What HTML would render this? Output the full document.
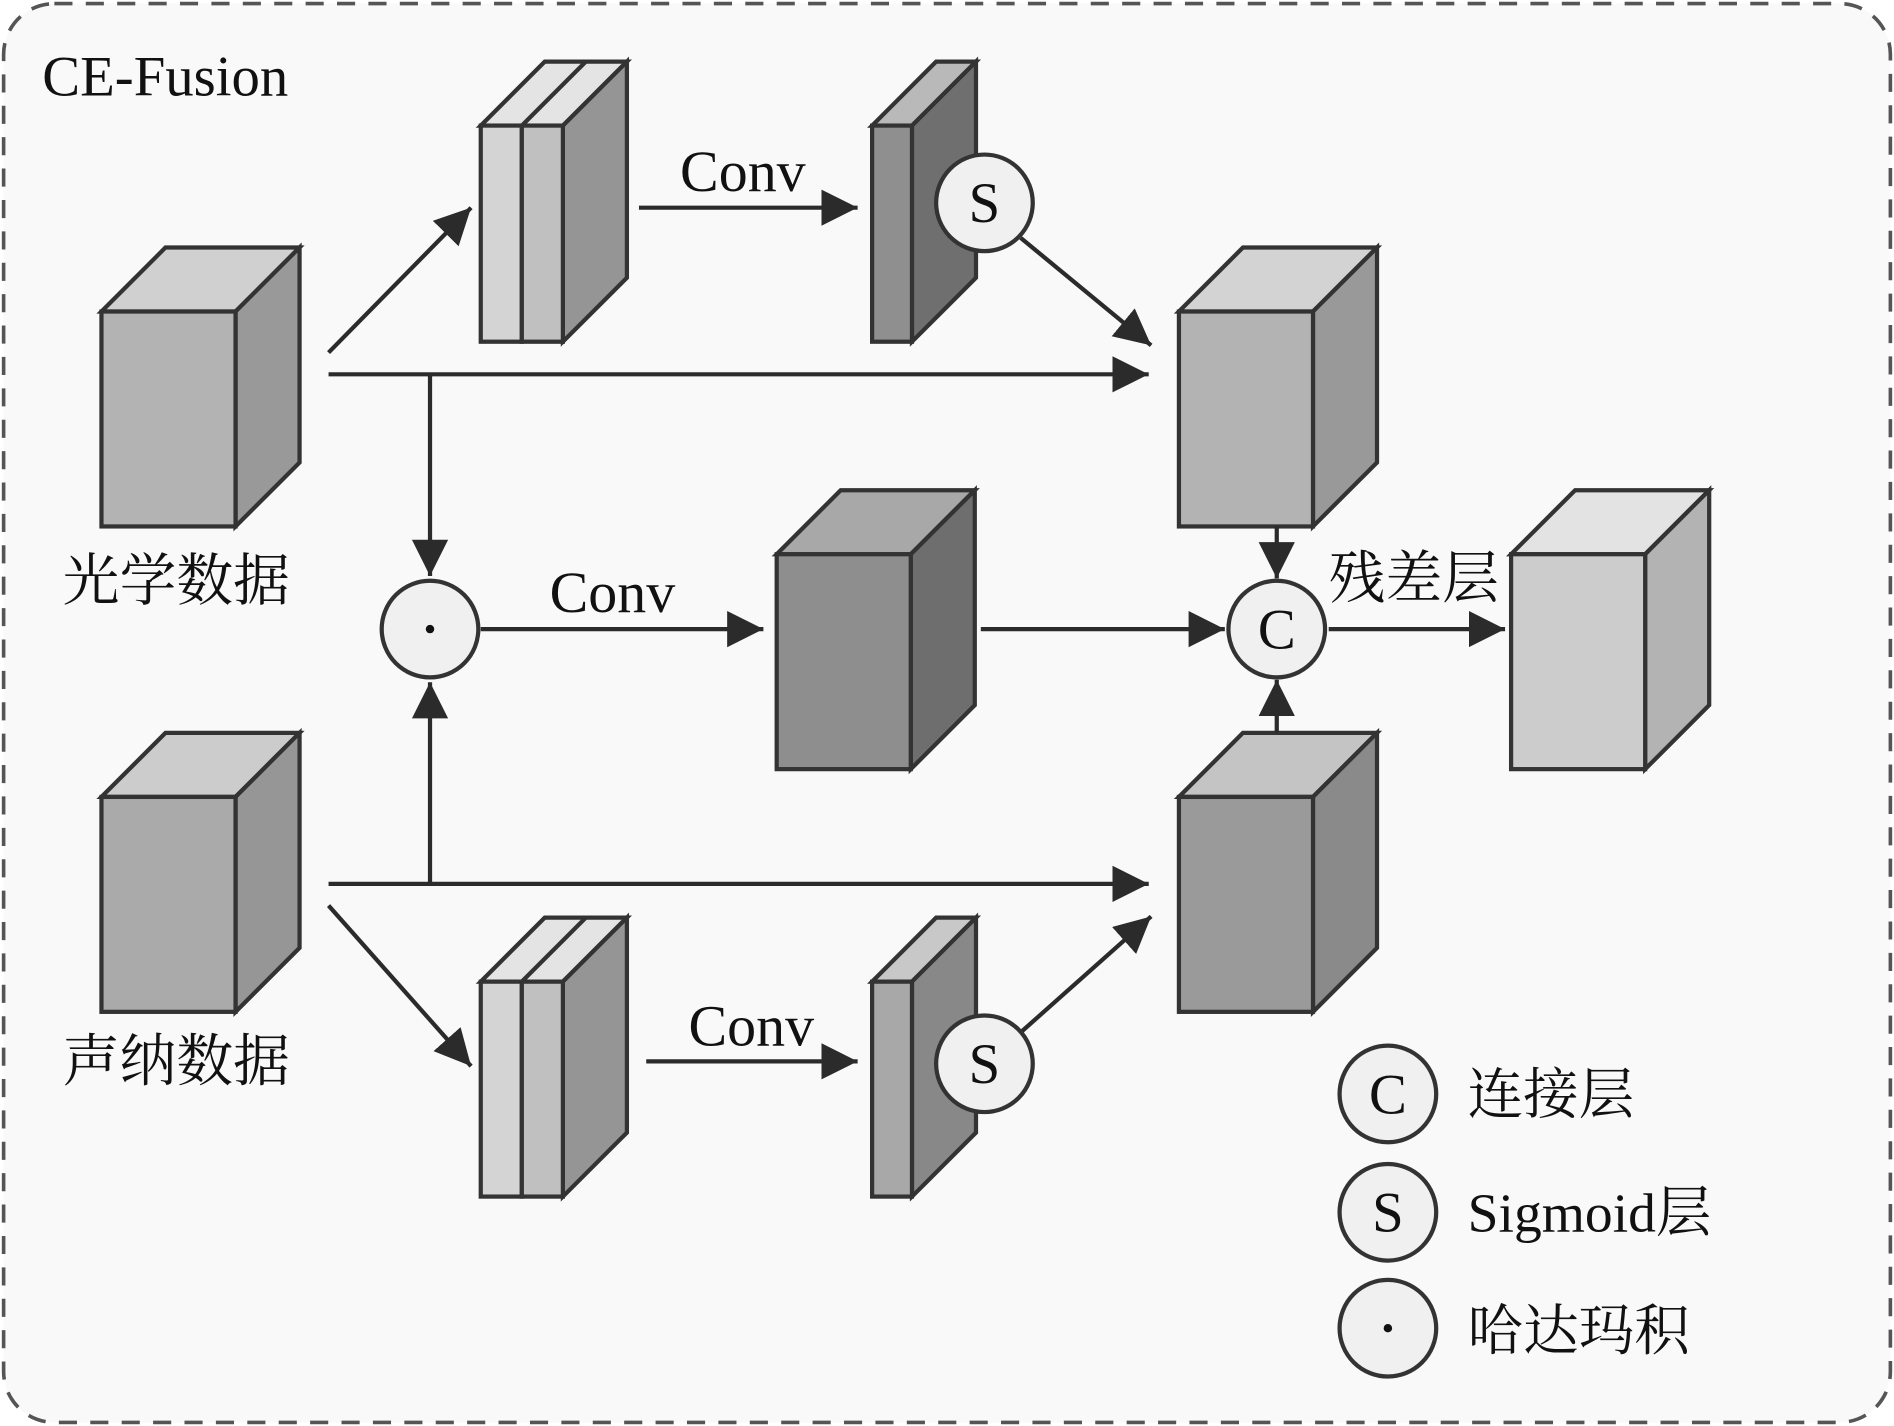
<!DOCTYPE html>
<html><head><meta charset="utf-8"><style>
html,body{margin:0;padding:0;background:#fff;}
svg{display:block;}
text{font-family:"Liberation Serif","Noto Serif CJK SC",serif;fill:#111;}
</style></head><body>
<svg width="1894" height="1426" viewBox="0 0 1568 1181" preserveAspectRatio="none" xmlns="http://www.w3.org/2000/svg">
<defs>
<marker id="a" markerUnits="userSpaceOnUse" markerWidth="32" markerHeight="32" refX="30" refY="15" orient="auto">
<path d="M0,0 L30,15 L0,30 Z" fill="#2b2b2b"/>
</marker>
</defs>
<rect x="3" y="3" width="1562" height="1175" rx="42" fill="#f9f9f9" stroke="#555" stroke-width="3" stroke-dasharray="15,11"/>
<g stroke="#333" stroke-width="3.5" stroke-linejoin="miter">
<polygon points="84,258 137,205 248,205 195,258" fill="#d0d0d0"/>
<polygon points="195,258 248,205 248,383 195,436" fill="#999"/>
<rect x="84" y="258" width="111" height="178" fill="#b3b3b3"/>
<polygon points="84,660 137,607 248,607 195,660" fill="#ccc"/>
<polygon points="195,660 248,607 248,785 195,838" fill="#969696"/>
<rect x="84" y="660" width="111" height="178" fill="#aaa"/>
<polygon points="398,104 451,51 519,51 466,104" fill="#e4e4e4"/>
<line x1="432" y1="104" x2="485" y2="51"/>
<polygon points="466,104 519,51 519,230 466,283" fill="#959595"/>
<rect x="398" y="104" width="34" height="179" fill="#d4d4d4"/>
<rect x="432" y="104" width="34" height="179" fill="#c0c0c0"/>
<polygon points="722,104 775,51 808,51 755,104" fill="#b9b9b9"/>
<polygon points="755,104 808,51 808,230 755,283" fill="#6f6f6f"/>
<rect x="722" y="104" width="33" height="179" fill="#8f8f8f"/>
<polygon points="398,813 451,760 519,760 466,813" fill="#e4e4e4"/>
<line x1="432" y1="813" x2="485" y2="760"/>
<polygon points="466,813 519,760 519,938 466,991" fill="#959595"/>
<rect x="398" y="813" width="34" height="178" fill="#d4d4d4"/>
<rect x="432" y="813" width="34" height="178" fill="#c0c0c0"/>
<polygon points="722,813 775,760 808,760 755,813" fill="#c8c8c8"/>
<polygon points="755,813 808,760 808,938 755,991" fill="#888"/>
<rect x="722" y="813" width="33" height="178" fill="#a8a8a8"/>
<polygon points="976,258 1029,205 1140,205 1087,258" fill="#d3d3d3"/>
<polygon points="1087,258 1140,205 1140,383 1087,436" fill="#999"/>
<rect x="976" y="258" width="111" height="178" fill="#b3b3b3"/>
<polygon points="643,459 696,406 807,406 754,459" fill="#a8a8a8"/>
<polygon points="754,459 807,406 807,584 754,637" fill="#6e6e6e"/>
<rect x="643" y="459" width="111" height="178" fill="#8e8e8e"/>
<polygon points="976,660 1029,607 1140,607 1087,660" fill="#c4c4c4"/>
<polygon points="1087,660 1140,607 1140,785 1087,838" fill="#8a8a8a"/>
<rect x="976" y="660" width="111" height="178" fill="#9a9a9a"/>
<polygon points="1251,459 1304,406 1415,406 1362,459" fill="#e3e3e3"/>
<polygon points="1362,459 1415,406 1415,584 1362,637" fill="#b3b3b3"/>
<rect x="1251" y="459" width="111" height="178" fill="#ccc"/>
</g>
<g stroke="#2b2b2b" stroke-width="3.5" fill="none">
<line x1="272" y1="292" x2="390" y2="172" marker-end="url(#a)"/>
<line x1="529" y1="172" x2="710" y2="172" marker-end="url(#a)"/>
<line x1="845" y1="197" x2="953" y2="286" marker-end="url(#a)"/>
<line x1="272" y1="310" x2="951" y2="310" marker-end="url(#a)"/>
<line x1="356" y1="310" x2="356" y2="477" marker-end="url(#a)"/>
<line x1="398" y1="521" x2="632" y2="521" marker-end="url(#a)"/>
<line x1="812" y1="521" x2="1014" y2="521" marker-end="url(#a)"/>
<line x1="1057" y1="436" x2="1057" y2="479" marker-end="url(#a)"/>
<line x1="1057" y1="607" x2="1057" y2="563" marker-end="url(#a)"/>
<line x1="1100" y1="521" x2="1246" y2="521" marker-end="url(#a)"/>
<line x1="356" y1="732" x2="356" y2="565" marker-end="url(#a)"/>
<line x1="272" y1="732" x2="951" y2="732" marker-end="url(#a)"/>
<line x1="272" y1="750" x2="390" y2="883" marker-end="url(#a)"/>
<line x1="535" y1="879" x2="710" y2="879" marker-end="url(#a)"/>
<line x1="845" y1="855" x2="953" y2="759" marker-end="url(#a)"/>
</g>
<g fill="#f0f0f0" stroke="#333" stroke-width="3.5">
<circle cx="815" cy="168" r="40"/>
<circle cx="815" cy="881" r="40"/>
<circle cx="356" cy="521" r="40"/>
<circle cx="1057" cy="521" r="40"/>
<circle cx="1149" cy="906" r="40"/>
<circle cx="1149" cy="1004" r="40"/>
<circle cx="1149" cy="1100" r="40"/>
</g>
<circle cx="356" cy="521" r="3.5" fill="#111"/>
<circle cx="1149" cy="1100" r="3.5" fill="#111"/>
<g font-size="47" text-anchor="middle">
<text x="815" y="184">S</text>
<text x="815" y="897">S</text>
<text x="1057" y="537">C</text>
<text x="1149" y="922">C</text>
<text x="1149" y="1020">S</text>
</g>
<g font-size="47">
<text x="35" y="79">CE-Fusion</text>
<text x="52" y="497">光学数据</text>
<text x="52" y="895">声纳数据</text>
<text x="1100" y="495">残差层</text>
</g>
<g font-size="46">
<text x="1215" y="922">连接层</text>
<text x="1215" y="1020">Sigmoid层</text>
<text x="1215" y="1118">哈达玛积</text>
</g>
<g font-size="48">
<text x="563" y="158">Conv</text>
<text x="455" y="507">Conv</text>
<text x="570" y="866">Conv</text>
</g>
</svg>
</body></html>
